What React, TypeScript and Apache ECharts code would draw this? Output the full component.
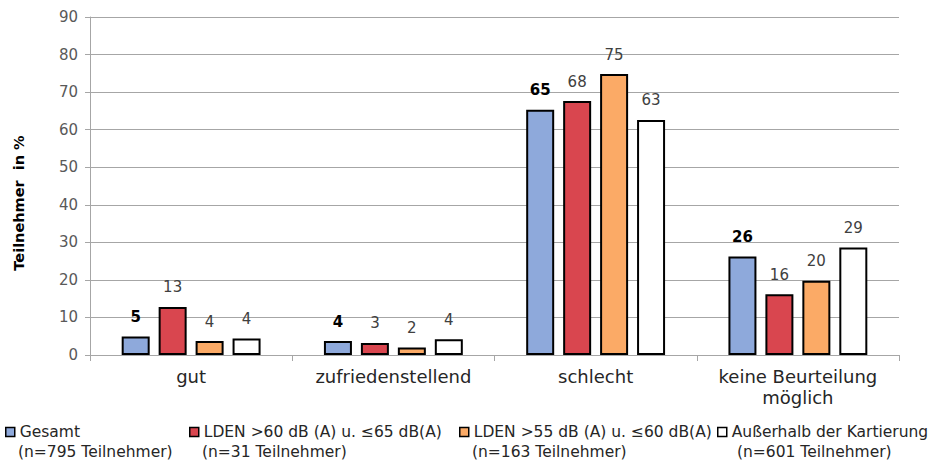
import React, { useEffect, useRef } from "react";
import * as echarts from "echarts";

const categories = ["gut", "zufriedenstellend", "schlecht", "keine Beurteilung\nmöglich"];
const seriesNames = [
  "Gesamt",
  "LDEN >60 dB (A) u. ≤65 dB(A)",
  "LDEN >55 dB (A) u. ≤60 dB(A)",
  "Außerhalb der Kartierung",
];
const seriesSubtitles = [
  "(n=795 Teilnehmer)",
  "(n=31 Teilnehmer)",
  "(n=163 Teilnehmer)",
  "(n=601 Teilnehmer)",
];
const gesamt = [4.9, 3.7, 65.3, 26.2];
const lden60to65 = [12.8, 3.2, 67.6, 16.2];
const lden55to60 = [3.7, 2.0, 74.8, 19.8];
const ausserhalb = [4.4, 4.2, 62.6, 28.6];
const seriesValues = [gesamt, lden60to65, lden55to60, ausserhalb];
const seriesColors = ["#8EA9DB", "#D9464F", "#FBAA66", "#FFFFFF"];
const legendLefts = [5, 189, 459, 717];
const subtitleLefts = [18, 202, 472, 737];
const yTicks = { min: 0, max: 90, interval: 10 };

const FONT = "'DejaVu Sans', 'Liberation Sans', Arial, sans-serif";

export default function App() {
  const ref = useRef<HTMLDivElement>(null);
  useEffect(() => {
    if (!ref.current) return;
    const chart = echarts.init(ref.current, undefined, { renderer: "svg" });
    const series = seriesNames.map((name, i) => ({
      name,
      type: "bar",
      data: seriesValues[i],
      barWidth: 28,
      barGap: "32%",
      itemStyle: { color: seriesColors[i], borderColor: "#000000", borderWidth: 2 },
      label: {
        show: true,
        position: "top",
        distance: 12,
        fontFamily: FONT,
        fontSize: 15,
        fontWeight: i === 0 ? "bold" : "normal",
        color: i === 0 ? "#000000" : "#404040",
        formatter: (p: any) => String(Math.round(p.value)),
      },
    }));
    const legends = seriesNames.map((name, i) => ({
      data: [name],
      left: legendLefts[i],
      top: 424,
      padding: 0,
      orient: "horizontal",
      icon: "rect",
      itemWidth: 9,
      itemHeight: 9,
      itemGap: 4,
      itemStyle: { borderColor: "#000000", borderWidth: 1.5 },
      textStyle: {
        fontFamily: FONT,
        fontSize: 15.5,
        color: "#262626",
        lineHeight: 16,
      },
      selectedMode: false,
    }));
    const subtitles = seriesSubtitles.map((t, i) => ({
      type: "text",
      left: subtitleLefts[i],
      top: 444,
      silent: true,
      style: {
        text: t,
        fontFamily: FONT,
        fontSize: 15.5,
        fill: "#262626",
      },
    }));
    chart.setOption({
      animation: false,
      backgroundColor: "#FFFFFF",
      grid: { left: 90, right: 37, top: 17, bottom: 108, containLabel: false },
      legend: legends,
      graphic: subtitles,
      xAxis: {
        type: "category",
        data: categories,
        axisLine: { show: true, lineStyle: { color: "#A6A6A6", width: 1 } },
        axisTick: { show: true, alignWithLabel: false, length: 6, lineStyle: { color: "#A6A6A6" } },
        axisLabel: {
          fontFamily: FONT,
          fontSize: 18,
          color: "#262626",
          margin: 11,
          lineHeight: 21,
          interval: 0,
        },
      },
      yAxis: {
        type: "value",
        min: yTicks.min,
        max: yTicks.max,
        interval: yTicks.interval,
        name: "Teilnehmer  in %",
        nameLocation: "middle",
        nameRotate: 90,
        nameGap: 64,
        nameTextStyle: {
          fontFamily: FONT,
          fontSize: 14.5,
          fontWeight: "bold",
          color: "#000000",
          padding: [0, 34, 0, 0],
        },
        axisLine: { show: true, lineStyle: { color: "#A6A6A6", width: 1 } },
        axisTick: { show: true, length: 5, lineStyle: { color: "#A6A6A6" } },
        splitLine: { show: true, lineStyle: { color: "#A6A6A6", width: 1 } },
        axisLabel: { fontFamily: FONT, fontSize: 15, color: "#595959", margin: 12 },
      },
      series,
    });
    return () => chart.dispose();
  }, []);
  return <div ref={ref} style={{ width: 936, height: 463, position: "absolute", left: 0, top: 0 }} />;
}
